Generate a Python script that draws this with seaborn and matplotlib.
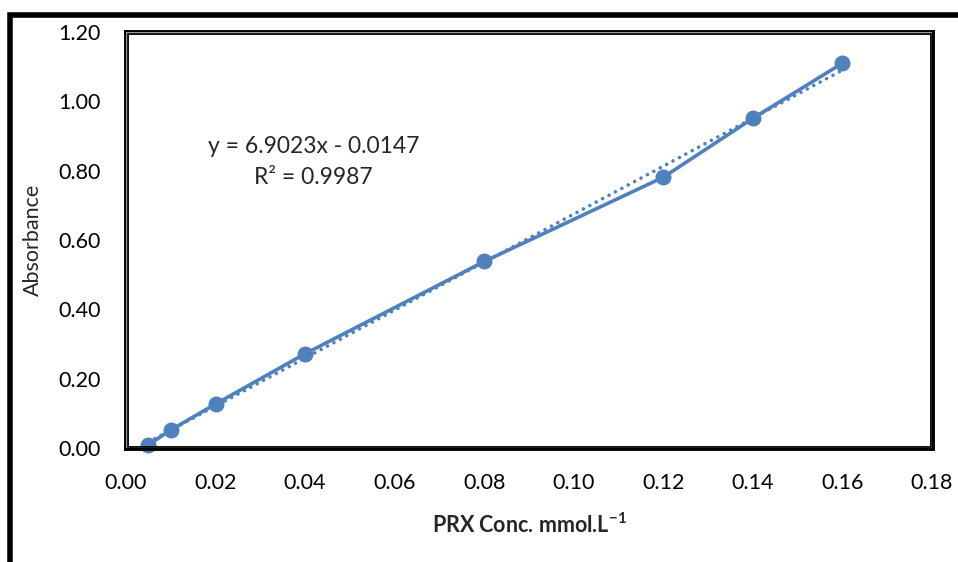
import numpy as np
import pandas as pd
import seaborn as sns
import matplotlib.pyplot as plt
from matplotlib.patches import Rectangle

# calibration data
conc = [0.005, 0.01, 0.02, 0.04, 0.08, 0.12, 0.14, 0.16]
absorbance = [0.009, 0.052, 0.127, 0.272, 0.538, 0.781, 0.951, 1.110]
x_ticks = [0.00, 0.02, 0.04, 0.06, 0.08, 0.10, 0.12, 0.14, 0.16, 0.18]
y_ticks = [0.00, 0.20, 0.40, 0.60, 0.80, 1.00, 1.20]
eq_text = "y = 6.9023x - 0.0147"
r2_text = "R² = 0.9987"

blue = "#4F81BD"

sns.set_theme(style="white")
plt.rcParams['font.family'] = ['Lato', 'DejaVu Sans']
plt.rcParams['mathtext.fontset'] = 'custom'
plt.rcParams['mathtext.rm'] = 'Lato'
plt.rcParams['mathtext.bf'] = 'Lato:bold'

df = pd.DataFrame({'conc': conc, 'abs': absorbance})

fig = plt.figure(figsize=(9.58, 5.62), dpi=100)
ax = fig.add_axes([126 / 958, 1 - 448 / 562, (932 - 126) / 958, (448 - 32) / 562])

# linear trendline (dotted)
sns.regplot(data=df, x='conc', y='abs', ax=ax, scatter=False, ci=None,
            color=blue, line_kws={'linestyle': (0, (0.01, 2.0)), 'linewidth': 2.6,
                                  'dash_capstyle': 'round'})
# measured series
sns.lineplot(data=df, x='conc', y='abs', ax=ax, color=blue, linewidth=2.6,
             marker='o', markersize=11.5, markeredgewidth=0, clip_on=False)

ax.set_xlim(0, 0.18)
ax.set_ylim(0, 1.2)
ax.set_xticks(x_ticks)
ax.set_yticks(y_ticks)
ax.set_xticklabels([f"{v:.2f}" for v in x_ticks], fontsize=15.5)
ax.set_yticklabels([f"{v:.2f}" for v in y_ticks], fontsize=15.5)
ax.tick_params(axis='both', length=0, colors='black')
ax.tick_params(axis='y', pad=18)
ax.tick_params(axis='x', pad=18)

for s in ax.spines.values():
    s.set_visible(True)
    s.set_color('black')
    s.set_linewidth(3.5)
# thin grey inner edge of the plot frame
ax.add_patch(Rectangle((0, 0), 1, 1, transform=ax.transAxes, fill=False,
                       edgecolor='#9a9a9a', linewidth=1, zorder=5))

ax.set_xlabel("PRX Conc. mmol.L$^{\\mathbf{-1}}$", fontsize=15.5, fontweight='bold',
              labelpad=14)
ax.set_ylabel("Absorbance", fontsize=15.5, labelpad=11)

ax.text(0.0419, 0.87, eq_text, fontsize=16.5, ha='center', va='center')
ax.text(0.0419, 0.78, r2_text, fontsize=16.5, ha='center', va='center')

# outer chart border
fig.patches.append(Rectangle((10 / 958, -0.1), 1.2, 1 - 15 / 562 + 0.1,
                             transform=fig.transFigure, fill=False,
                             edgecolor='black', linewidth=4))

fig.savefig("out.png", dpi=100)
